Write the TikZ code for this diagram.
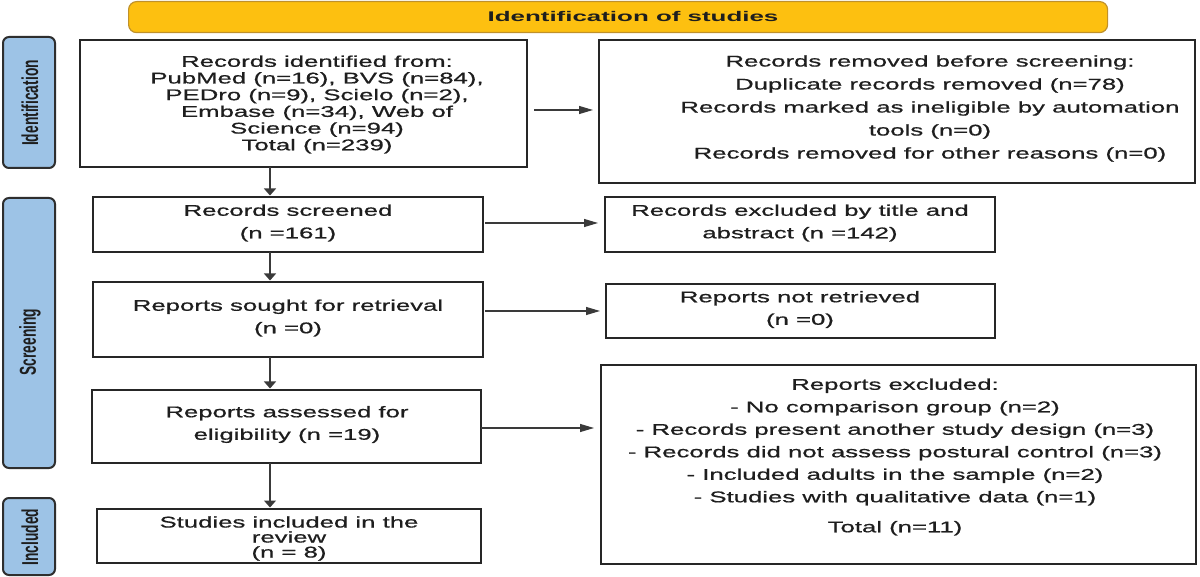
\documentclass[tikz,border=0pt]{standalone}
\usepackage{fontspec}
\setmainfont{Liberation Sans}
\newfontfamily\bxfont[FakeStretch=1.66,FakeBold=0.7]{Liberation Sans}
\newfontfamily\barfont[FakeStretch=0.6]{Liberation Sans}
\newfontfamily\hdfont[FakeStretch=1.85]{Liberation Sans}
\usetikzlibrary{arrows.meta}
\definecolor{hdfill}{HTML}{FDC010}
\definecolor{hdline}{HTML}{C0912A}
\definecolor{barfill}{HTML}{9DC3E6}
\definecolor{barline}{HTML}{2E2E2E}
\definecolor{boxline}{HTML}{262626}
\definecolor{arrline}{HTML}{3A3A3A}
\definecolor{txtcol}{HTML}{1E1E1E}
\begin{document}
\begin{tikzpicture}[x=1pt,y=-1pt,
  bx/.style={draw=boxline, line width=2.2pt, inner sep=0pt, outer sep=0pt, anchor=north west},
  sidebar/.style={draw=barline, fill=barfill, line width=2pt, rounded corners=6pt, inner sep=0pt, outer sep=0pt, anchor=north west},
  bartxt/.style={rotate=90, inner sep=0pt, text=txtcol, font=\barfont\bfseries\fontsize{23}{23}\selectfont},
  txt/.style={align=center, inner sep=0pt, text=txtcol, font=\bxfont\fontsize{15.5}{22.5}\selectfont},
  arrr/.style={draw=arrline, line width=1.1pt, -{Triangle[length=14pt,width=8pt]}},
  arrd/.style={draw=arrline, line width=1.3pt, -{Triangle[length=7pt,width=12pt]}}]
\useasboundingbox (0,0) rectangle (1200,577);
\fill[white] (0,0) rectangle (1200,577);

% header
\node[draw=hdline, fill=hdfill, line width=1.2pt, rounded corners=8pt, minimum width=979pt, minimum height=31pt, inner sep=0pt, anchor=north west] (hdr) at (128,1) {};
\node[inner sep=0pt, text=txtcol, font=\hdfont\bfseries\fontsize{14}{14}\selectfont] (hdrt) at (633,16.5) {Identification of studies};

% side bars
\node[sidebar, minimum width=52pt, minimum height=131pt] (idb) at (3,37) {};
\node[sidebar, minimum width=52pt, minimum height=270pt] (scb) at (3,198) {};
\node[sidebar, minimum width=52pt, minimum height=77pt] (inb) at (3,498) {};
\node[bartxt] (idbt) at (30,103) {Identification};
\node[bartxt] (scbt) at (30,342) {Screening};
\node[bartxt] (inbt) at (30,537) {Included};

% boxes
\node[bx, minimum width=447pt, minimum height=127pt] (b1) at (80,40) {};
\node[bx, minimum width=596pt, minimum height=143pt] (rem) at (599,40) {};
\node[bx, minimum width=390pt, minimum height=55pt] (scr) at (93,197) {};
\node[bx, minimum width=390pt, minimum height=55pt] (exc) at (605,197) {};
\node[bx, minimum width=390pt, minimum height=75pt] (sou) at (93,282) {};
\node[bx, minimum width=389pt, minimum height=54pt] (nre) at (606,284) {};
\node[bx, minimum width=389pt, minimum height=73pt] (ass) at (92,390) {};
\node[bx, minimum width=384pt, minimum height=54pt] (inc) at (97,509) {};
\node[bx, minimum width=595pt, minimum height=199pt] (rex) at (601,365) {};

% texts
\node[txt, font=\bxfont\fontsize{15.5}{16.7}\selectfont] (t1) at (317,104.5) {Records identified from:\\PubMed (n=16), BVS (n=84),\\PEDro (n=9), Scielo (n=2),\\Embase (n=34), Web of\\Science (n=94)\\Total (n=239)};
\node[txt, font=\bxfont\fontsize{15.5}{23}\selectfont] (trem) at (930,108.5) {Records removed before screening:\\Duplicate records removed (n=78)\\Records marked as ineligible by automation\\tools (n=0)\\Records removed for other reasons (n=0)};
\node[txt] (tscr) at (288,223) {Records screened\\(n =161)};
\node[txt] (texc) at (800,223) {Records excluded by title and\\abstract (n =142)};
\node[txt] (tsou) at (288,318) {Reports sought for retrieval\\(n =0)};
\node[txt] (tnre) at (800,309.5) {Reports not retrieved\\(n =0)};
\node[txt] (tass) at (287,424.5) {Reports assessed for\\eligibility (n =19)};
\node[txt, font=\bxfont\fontsize{15.5}{15}\selectfont] (tinc) at (289,538.5) {Studies included in the\\review\\(n = 8)};
\node[txt] (trex) at (895,457) {Reports excluded:\\- No comparison group (n=2)\\- Records present another study design (n=3)\\- Records did not assess postural control (n=3)\\- Included adults in the sample (n=2)\\- Studies with qualitative data (n=1)\\[7.5pt]Total (n=11)};

% arrow guide coordinates
\coordinate (ax) at (270,0);
\coordinate (r1) at (0,110);
\coordinate (r2) at (0,223);
\coordinate (r3) at (0,311);
\coordinate (r4) at (0,428);

% down arrows
\draw[arrd, shorten >=1.5pt] (b1.south -| ax) -- (scr.north -| ax);
\draw[arrd, shorten >=1.5pt] (scr.south -| ax) -- (sou.north -| ax);
\draw[arrd, shorten >=1.5pt] (sou.south -| ax) -- (ass.north -| ax);
\draw[arrd, shorten >=1.5pt] (ass.south -| ax) -- (inc.north -| ax);

% right arrows
\draw[arrr, shorten <=7pt, shorten >=6pt] (b1.east |- r1) -- (rem.west |- r1);
\draw[arrr, shorten <=2pt, shorten >=7pt] (scr.east |- r2) -- (exc.west |- r2);
\draw[arrr, shorten <=2pt, shorten >=6pt] (sou.east |- r3) -- (nre.west |- r3);
\draw[arrr, shorten <=0pt, shorten >=7pt] (ass.east |- r4) -- (rex.west |- r4);
\end{tikzpicture}
\end{document}
